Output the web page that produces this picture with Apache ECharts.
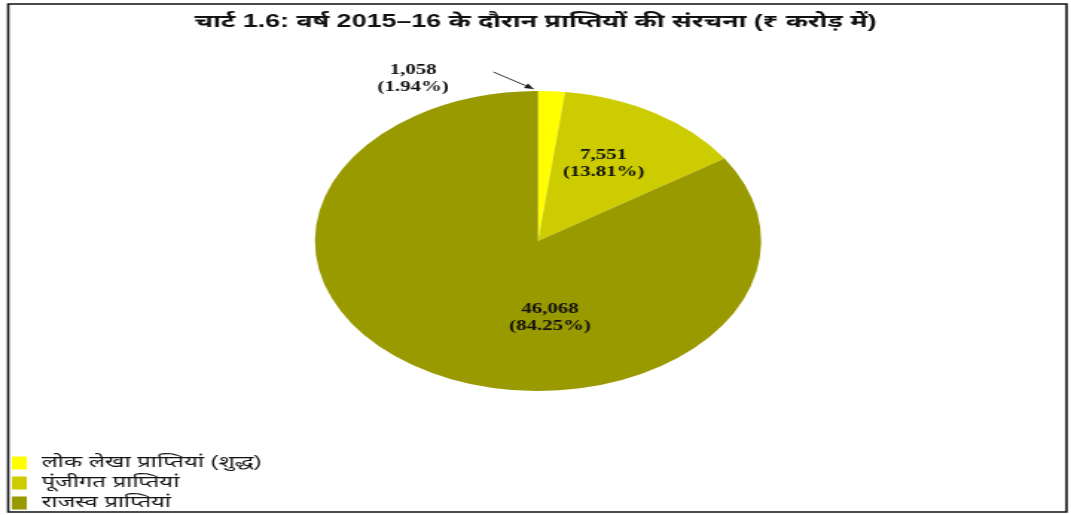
<!DOCTYPE html>
<html>
<head>
<meta charset="utf-8">
<script src="https://cdn.jsdelivr.net/npm/echarts@6/dist/echarts.min.js"></script>
<style>
  html, body { margin: 0; padding: 0; background: #fff; overflow: hidden; }
  /* the chart is laid out narrow and widened to the page width */
  #chart { width: 720px; height: 515px; transform: scaleX(1.4875); transform-origin: 0 0; }
</style>
</head>
<body>
<div id="chart"></div>
<script>
// Receipts composition, 2015-16 (₹ crore)
const categories = ['लोक लेखा प्राप्तियां (शुद्ध)', 'पूंजीगत प्राप्तियां', 'राजस्व प्राप्तियां'];
const values = [1058, 7551, 46068];
const sliceColors = ['#FFFF00', '#CCCC00', '#999900'];
const titleText = 'चार्ट 1.6: वर्ष 2015–16 के दौरान प्राप्तियों की संरचना (₹ करोड़ में)';

const CX = 361.7, CY = 241, R = 150;
const devFont = '"Liberation Sans", "Noto Sans Devanagari", "Noto Sans", Arial, sans-serif';
const numFont = '"Liberation Serif", "Times New Roman", serif';

// label nudges for the two inner labels
const innerOffsets = [null, [3, -11], [45, 8]];

const pieData = values.map((v, i) => {
  const item = { name: categories[i], value: v, itemStyle: { color: sliceColors[i] } };
  if (i === 0) {
    item.label = { position: 'outside' };
    item.labelLine = { show: true, lineStyle: { color: '#333', width: 1 } };
  } else {
    item.label = { position: 'inside', offset: innerOffsets[i] };
    item.labelLine = { show: false };
  }
  return item;
});

// arrowhead at the end of the small slice's leader line
const tip = [CX - 3, CY - R - 2];
const tail = [CX - 30, CY - R - 19];
function arrowHead(t, s, len, half) {
  const dx = t[0] - s[0], dy = t[1] - s[1];
  const L = Math.sqrt(dx * dx + dy * dy);
  const ux = dx / L, uy = dy / L, nx = -uy, ny = ux;
  const bx = t[0] - len * ux, by = t[1] - len * uy;
  return [t, [bx + half * nx, by + half * ny], [bx - half * nx, by - half * ny]];
}

const chart = echarts.init(document.getElementById('chart'), null, { renderer: 'canvas' });
chart.setOption({
  backgroundColor: '#fff',
  animation: false,
  title: {
    text: titleText,
    left: 'center',
    top: 8,
    textStyle: { fontFamily: devFont, fontWeight: 'bold', fontSize: 18, color: '#111' }
  },
  legend: {
    orient: 'vertical',
    left: 8,
    top: 454,
    padding: 0,
    itemWidth: 10,
    itemHeight: 13,
    itemGap: 2,
    icon: 'rect',
    data: categories,
    textStyle: { fontFamily: devFont, fontSize: 16, lineHeight: 18, color: '#111', padding: [0, 0, 0, 5] }
  },
  graphic: [
    {
      type: 'rect',
      shape: { x: 5.5, y: 4, width: 711.5, height: 508 },
      style: { fill: 'none', stroke: '#111', lineWidth: 1.6 },
      silent: true
    },
    {
      type: 'polygon',
      shape: { points: arrowHead(tip, tail, 6, 2.6) },
      style: { fill: '#111' },
      silent: true
    }
  ],
  series: [{
    type: 'pie',
    center: [CX, CY],
    radius: R,
    startAngle: 90,
    clockwise: true,
    percentPrecision: 2,
    avoidLabelOverlap: false,
    data: pieData,
    label: {
      show: true,
      fontFamily: numFont,
      fontWeight: 'bold',
      fontSize: 14,
      lineHeight: 17,
      color: '#111',
      align: 'center',
      formatter: p => p.value.toLocaleString('en-US') + '\n(' + p.percent.toFixed(2) + '%)'
    },
    labelLayout: function (params) {
      if (params.dataIndex !== 0) return {};
      return {
        x: CX - 84,
        y: CY - 162,
        align: 'center',
        verticalAlign: 'middle',
        labelLinePoints: [tip, tail, tail]
      };
    },
    emphasis: { disabled: true }
  }]
});
</script>
</body>
</html>
